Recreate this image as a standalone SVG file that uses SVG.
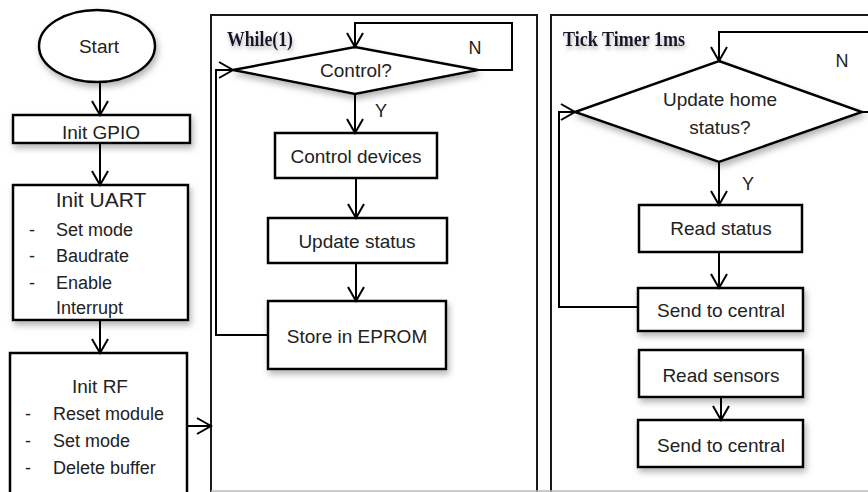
<svg xmlns="http://www.w3.org/2000/svg" width="868" height="492" viewBox="0 0 868 492">
<style>
.box{fill:#fff;stroke:#000;stroke-width:2.5}
.panel{fill:#fff;stroke:#1a1a1a;stroke-width:2}
.t{font-family:"Liberation Sans",Arial,sans-serif;font-size:19px;fill:#222;text-anchor:middle}
.l{font-family:"Liberation Sans",Arial,sans-serif;font-size:18px;fill:#222}
.h{font-family:"Liberation Serif","Times New Roman",serif;font-size:21px;font-weight:bold;fill:#15152a}
.c{fill:none;stroke:#000;stroke-width:2}
</style>
<defs>
<filter id="sh" x="-10%" y="-20%" width="125%" height="160%">
<feDropShadow dx="2" dy="4" stdDeviation="3" flood-color="#777" flood-opacity="0.55"/>
</filter>
<filter id="tsh" x="-10%" y="-30%" width="130%" height="180%">
<feDropShadow dx="1" dy="3" stdDeviation="2" flood-color="#888" flood-opacity="0.6"/>
</filter>
<marker id="ah" markerUnits="userSpaceOnUse" markerWidth="20" markerHeight="20" viewBox="-2 -10 20 20" refX="15" refY="0" orient="auto">
<path d="M1,-8 L15,0 L1,8" fill="none" stroke="#000" stroke-width="2"/>
</marker>
</defs>
<rect width="868" height="492" fill="#fff"/>

<g id="panel-while">
<rect class="panel" x="211" y="15" width="326" height="495"/>
<text class="h" x="227" y="46" textLength="66" lengthAdjust="spacingAndGlyphs" filter="url(#tsh)">While(1)</text>
</g>
<g id="panel-tick">
<rect class="panel" x="551" y="15" width="340" height="495"/>
<text class="h" x="563" y="46" textLength="122" lengthAdjust="spacingAndGlyphs" filter="url(#tsh)">Tick Timer 1ms</text>
</g>
<line x1="211" y1="491" x2="868" y2="491" stroke="#bbb" stroke-width="1.5"/>

<g id="start">
<ellipse class="box" cx="97" cy="46" rx="58" ry="36" filter="url(#sh)"/>
<text class="t" x="99" y="53">Start</text>
</g>
<g id="init-gpio">
<rect class="box" x="13" y="115" width="177" height="28" filter="url(#sh)"/>
<text class="t" x="101" y="139">Init GPIO</text>
</g>
<g id="init-uart">
<rect class="box" x="13" y="185" width="175" height="135" filter="url(#sh)"/>
<text class="t" x="101" y="207" style="font-size:21px">Init UART</text>
<text class="l" x="29" y="236">-</text><text class="l" x="56" y="236">Set mode</text>
<text class="l" x="29" y="262">-</text><text class="l" x="56" y="262">Baudrate</text>
<text class="l" x="29" y="289">-</text><text class="l" x="56" y="289">Enable</text>
<text class="l" x="56" y="314">Interrupt</text>
</g>
<g id="init-rf">
<rect class="box" x="10" y="353" width="177" height="160"/>
<text class="t" x="100" y="393">Init RF</text>
<text class="l" x="25" y="420">-</text><text class="l" x="53" y="420">Reset module</text>
<text class="l" x="25" y="447">-</text><text class="l" x="53" y="447">Set mode</text>
<text class="l" x="25" y="474">-</text><text class="l" x="53" y="474">Delete buffer</text>
</g>

<g id="control">
<polygon class="box" points="355,47 478,70 355,94 233,70" filter="url(#sh)"/>
<text class="t" x="356" y="77">Control?</text>
</g>
<g id="control-devices">
<rect class="box" x="275" y="133" width="162" height="45"/>
<text class="t" x="356" y="163">Control devices</text>
</g>
<g id="update-status">
<rect class="box" x="268" y="218" width="179" height="45"/>
<text class="t" x="357" y="248">Update status</text>
</g>
<g id="store-eprom">
<rect class="box" x="268" y="301" width="178" height="68" filter="url(#sh)"/>
<text class="t" x="357" y="343">Store in EPROM</text>
</g>

<g id="update-home">
<polygon class="box" points="719,61 862,112 719,162 575,112" filter="url(#sh)"/>
<text class="t" x="720" y="106">Update home</text>
<text class="t" x="720" y="134">status?</text>
</g>
<g id="read-status">
<rect class="box" x="639" y="205" width="163" height="47"/>
<text class="t" x="721" y="235">Read status</text>
</g>
<g id="send-central-1">
<rect class="box" x="638" y="288" width="165" height="43" filter="url(#sh)"/>
<text class="t" x="721" y="317">Send to central</text>
</g>
<g id="read-sensors">
<rect class="box" x="639" y="350" width="164" height="47" filter="url(#sh)"/>
<text class="t" x="721" y="382">Read sensors</text>
</g>
<g id="send-central-2">
<rect class="box" x="638" y="420" width="165" height="47" filter="url(#sh)"/>
<text class="t" x="721" y="452">Send to central</text>
</g>

<g id="connectors">
<line class="c" x1="100" y1="82" x2="100" y2="115" marker-end="url(#ah)"/>
<line class="c" x1="100" y1="143" x2="100" y2="185" marker-end="url(#ah)"/>
<line class="c" x1="100" y1="320" x2="100" y2="353" marker-end="url(#ah)"/>
<line class="c" x1="187" y1="426" x2="211" y2="426" marker-end="url(#ah)"/>
<path class="c" d="M478,70 H512 V23 H355 V47" marker-end="url(#ah)"/>
<text class="l" x="475" y="54" text-anchor="middle">N</text>
<line class="c" x1="355" y1="94" x2="355" y2="133" marker-end="url(#ah)"/>
<text class="l" x="381" y="117" text-anchor="middle">Y</text>
<line class="c" x1="356" y1="178" x2="356" y2="218" marker-end="url(#ah)"/>
<line class="c" x1="356" y1="263" x2="356" y2="301" marker-end="url(#ah)"/>
<path class="c" d="M268,335 H216 V70 H233" marker-end="url(#ah)"/>
<path class="c" d="M862,112 H880 V32 H719 V61" marker-end="url(#ah)"/>
<text class="l" x="842" y="67" text-anchor="middle">N</text>
<line class="c" x1="719" y1="162" x2="719" y2="205" marker-end="url(#ah)"/>
<text class="l" x="748" y="190" text-anchor="middle">Y</text>
<line class="c" x1="719" y1="252" x2="719" y2="288" marker-end="url(#ah)"/>
<path class="c" d="M638,307 H559 V112 H575" marker-end="url(#ah)"/>
<line class="c" x1="721" y1="397" x2="721" y2="420" marker-end="url(#ah)"/>
</g>
</svg>
